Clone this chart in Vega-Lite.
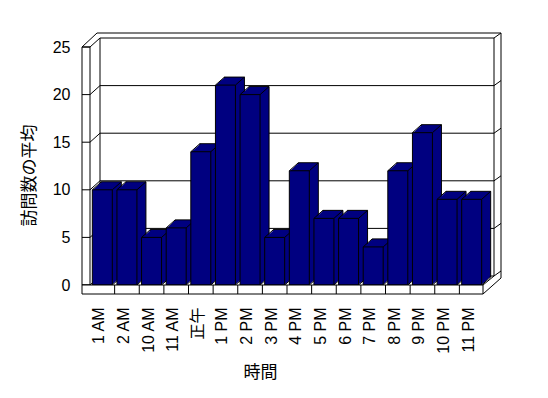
{
  "$schema": "https://vega.github.io/schema/vega-lite/v6.json",
  "width": 394,
  "height": 238,
  "autosize": {"type": "none"},
  "padding": {"left": 90, "top": 47, "right": 64, "bottom": 113},
  "background": "white",
  "config": {"view": {"stroke": null}},
  "datasets": {
    "visits": [
      {"hour": "1 AM", "visits": 10},
      {"hour": "2 AM", "visits": 10},
      {"hour": "10 AM", "visits": 5},
      {"hour": "11 AM", "visits": 6},
      {"hour": "正午", "visits": 14},
      {"hour": "1 PM", "visits": 21},
      {"hour": "2 PM", "visits": 20},
      {"hour": "3 PM", "visits": 5},
      {"hour": "4 PM", "visits": 12},
      {"hour": "5 PM", "visits": 7},
      {"hour": "6 PM", "visits": 7},
      {"hour": "7 PM", "visits": 4},
      {"hour": "8 PM", "visits": 12},
      {"hour": "9 PM", "visits": 16},
      {"hour": "10 PM", "visits": 9},
      {"hour": "11 PM", "visits": 9}
    ],
    "levels": [{"lv": 0}, {"lv": 5}, {"lv": 10}, {"lv": 15}, {"lv": 20}, {"lv": 25}],
    "one": [{"k": 1}]
  },
  "layer": [
    {
      "layer": [
        {
          "data": {"name": "levels"},
          "mark": {"type": "rule", "color": "black", "xOffset": 10, "x2Offset": 10, "yOffset": -9},
          "encoding": {
            "x": {"datum": 0, "type": "quantitative", "scale": {"domain": [0, 16], "nice": false, "zero": false}, "axis": null},
            "x2": {"datum": 16},
            "y": {"field": "lv", "type": "quantitative", "scale": {"domain": [0, 25], "nice": false}, "axis": null}
          }
        },
        {
          "data": {"name": "levels"},
          "mark": {"type": "rule", "color": "black", "x2Offset": 10, "y2Offset": -9},
          "encoding": {
            "x": {"datum": 0, "type": "quantitative"},
            "x2": {"datum": 0},
            "y": {"field": "lv", "type": "quantitative"},
            "y2": {"field": "lv"}
          }
        },
        {
          "data": {"name": "levels"},
          "mark": {"type": "rule", "color": "black", "xOffset": 10, "x2Offset": 17, "yOffset": -9, "y2Offset": -14},
          "encoding": {
            "x": {"datum": 16, "type": "quantitative"},
            "x2": {"datum": 16},
            "y": {"field": "lv", "type": "quantitative"},
            "y2": {"field": "lv"}
          }
        },
        {
          "data": {"name": "one"},
          "mark": {"type": "rule", "color": "black", "xOffset": 10, "yOffset": -9, "y2Offset": -9},
          "encoding": {
            "x": {"datum": 0, "type": "quantitative"},
            "y": {"datum": 25, "type": "quantitative"},
            "y2": {"datum": 0}
          }
        },
        {
          "data": {"name": "one"},
          "mark": {"type": "rule", "color": "black", "xOffset": 10, "yOffset": -9, "y2Offset": -9},
          "encoding": {
            "x": {"datum": 16, "type": "quantitative"},
            "y": {"datum": 25, "type": "quantitative"},
            "y2": {"datum": 0}
          }
        },
        {
          "data": {"name": "one"},
          "mark": {"type": "rule", "color": "black", "xOffset": 7, "x2Offset": 17, "yOffset": -14},
          "encoding": {
            "x": {"datum": 0, "type": "quantitative"},
            "x2": {"datum": 16},
            "y": {"datum": 25, "type": "quantitative"}
          }
        },
        {
          "data": {"name": "one"},
          "mark": {"type": "rule", "color": "black", "xOffset": 17, "yOffset": -14, "y2Offset": -7},
          "encoding": {
            "x": {"datum": 16, "type": "quantitative"},
            "y": {"datum": 25, "type": "quantitative"},
            "y2": {"datum": 0}
          }
        },
        {
          "data": {"name": "one"},
          "mark": {"type": "rule", "color": "black", "xOffset": -8, "x2Offset": 7, "y2Offset": -14},
          "encoding": {
            "x": {"datum": 0, "type": "quantitative"},
            "x2": {"datum": 0},
            "y": {"datum": 25, "type": "quantitative"},
            "y2": {"datum": 25}
          }
        },
        {
          "data": {"name": "one"},
          "mark": {"type": "rect", "fill": "white", "stroke": "black", "strokeWidth": 1, "xOffset": -8},
          "encoding": {
            "x": {"datum": 0, "type": "quantitative"},
            "x2": {"datum": 0},
            "y": {"datum": 25, "type": "quantitative"},
            "y2": {"datum": 0}
          }
        },
        {
          "data": {"name": "levels"},
          "mark": {"type": "rule", "color": "black", "xOffset": -8},
          "encoding": {
            "x": {"datum": 0, "type": "quantitative"},
            "x2": {"datum": 0},
            "y": {"field": "lv", "type": "quantitative"}
          }
        }
      ]
    },
    {
      "data": {"name": "visits"},
      "encoding": {
        "x": {
          "field": "hour", "type": "nominal", "sort": null,
          "scale": {"domain": ["1 AM","2 AM","10 AM","11 AM","正午","1 PM","2 PM","3 PM","4 PM","5 PM","6 PM","7 PM","8 PM","9 PM","10 PM","11 PM"], "paddingInner": 0, "paddingOuter": 0},
          "axis": {
            "orient": "bottom",
            "title": "時間", "domain": false, "ticks": false, "grid": false, "offset": 9,
            "labelAngle": -90, "labelAlign": "right", "labelBaseline": "middle", "labelPadding": 13, "labelOffset": -3,
            "labelFont": "Liberation Sans, Noto Sans CJK JP", "labelFontSize": 16, "labelColor": "black",
            "titleFont": "Noto Sans CJK JP", "titleFontSize": 17, "titleFontWeight": "normal", "titleColor": "black",
            "titleX": 170, "titleY": 78, "titleBaseline": "middle", "titleAlign": "center"
          }
        },
        "y": {
          "field": "visits", "type": "quantitative",
          "scale": {"domain": [0, 25], "nice": false},
          "axis": {
            "orient": "left",
            "title": "訪問数の平均", "values": [0, 5, 10, 15, 20, 25], "domain": false, "ticks": false, "grid": false, "offset": 8,
            "labelPadding": 12, "labelFont": "Liberation Sans", "labelFontSize": 16, "labelColor": "black",
            "titleFont": "Noto Sans CJK JP", "titleFontSize": 17, "titleFontWeight": "normal", "titleColor": "black",
            "titleX": -53, "titleY": 128, "titleBaseline": "middle", "titleAlign": "center", "titleAngle": -90
          }
        }
      },
      "layer": [
        {"mark": {"type": "bar", "fill": "#000080", "stroke": "black", "strokeWidth": 1, "width": {"band": 0.812}, "xOffset": 9, "yOffset": -8, "y2Offset": -8}},
        {"mark": {"type": "bar", "fill": "#000080", "strokeWidth": 0, "width": {"band": 0.812}, "xOffset": 1.125, "yOffset": -1, "y2Offset": -1}},
        {"mark": {"type": "bar", "fill": "#000080", "strokeWidth": 0, "width": {"band": 0.812}, "xOffset": 2.25, "yOffset": -2, "y2Offset": -2}},
        {"mark": {"type": "bar", "fill": "#000080", "strokeWidth": 0, "width": {"band": 0.812}, "xOffset": 3.375, "yOffset": -3, "y2Offset": -3}},
        {"mark": {"type": "bar", "fill": "#000080", "strokeWidth": 0, "width": {"band": 0.812}, "xOffset": 4.5, "yOffset": -4, "y2Offset": -4}},
        {"mark": {"type": "bar", "fill": "#000080", "strokeWidth": 0, "width": {"band": 0.812}, "xOffset": 5.625, "yOffset": -5, "y2Offset": -5}},
        {"mark": {"type": "bar", "fill": "#000080", "strokeWidth": 0, "width": {"band": 0.812}, "xOffset": 6.75, "yOffset": -6, "y2Offset": -6}},
        {"mark": {"type": "bar", "fill": "#000080", "strokeWidth": 0, "width": {"band": 0.812}, "xOffset": 7.875, "yOffset": -7, "y2Offset": -7}},
        {
          "mark": {"type": "rule", "color": "black", "xOffset": 10, "x2Offset": 19, "y2Offset": -8},
          "encoding": {"x2": {"field": "hour"}, "y2": {"field": "visits"}}
        },
        {
          "mark": {"type": "rule", "color": "black", "xOffset": -10, "x2Offset": -1, "y2Offset": -8},
          "encoding": {"x2": {"field": "hour"}, "y2": {"field": "visits"}}
        },
        {
          "mark": {"type": "rule", "color": "black", "xOffset": 10, "x2Offset": 19, "y2Offset": -8},
          "encoding": {"x2": {"field": "hour"}, "y": {"datum": 0, "type": "quantitative"}, "y2": {"datum": 0}}
        },
        {"mark": {"type": "bar", "fill": "#000080", "stroke": "black", "strokeWidth": 1, "width": {"band": 0.812}}}
      ]
    },
    {
      "data": {"name": "one"},
      "layer": [
        {
          "mark": {"type": "rect", "fill": "white", "stroke": "black", "strokeWidth": 1, "xOffset": -8, "x2Offset": -1, "y2Offset": 9},
          "encoding": {
            "x": {"datum": 0, "type": "quantitative", "scale": {"domain": [0, 16], "nice": false, "zero": false}, "axis": null},
            "x2": {"datum": 16},
            "y": {"datum": 0, "type": "quantitative", "scale": {"domain": [0, 25], "nice": false}, "axis": null},
            "y2": {"datum": 0}
          }
        },
        {
          "mark": {"type": "rule", "color": "black", "xOffset": -1, "x2Offset": 17, "yOffset": 9, "y2Offset": -7},
          "encoding": {
            "x": {"datum": 16, "type": "quantitative"},
            "x2": {"datum": 16},
            "y": {"datum": 0, "type": "quantitative"},
            "y2": {"datum": 0}
          }
        },
        {
          "mark": {"type": "rule", "color": "black", "xOffset": -1, "x2Offset": 10, "y2Offset": -9},
          "encoding": {
            "x": {"datum": 16, "type": "quantitative"},
            "x2": {"datum": 16},
            "y": {"datum": 0, "type": "quantitative"},
            "y2": {"datum": 0}
          }
        }
      ]
    },
    {
      "data": {"name": "visits"},
      "transform": [{"filter": "datum.hour !== '1 AM'"}],
      "mark": {"type": "rule", "color": "black", "y2Offset": 9},
      "encoding": {
        "x": {
          "field": "hour", "type": "nominal", "sort": null, "bandPosition": 0,
          "scale": {"domain": ["1 AM","2 AM","10 AM","11 AM","正午","1 PM","2 PM","3 PM","4 PM","5 PM","6 PM","7 PM","8 PM","9 PM","10 PM","11 PM"], "paddingInner": 0, "paddingOuter": 0},
          "axis": null
        },
        "y": {"datum": 0, "type": "quantitative", "scale": {"domain": [0, 25], "nice": false}, "axis": null},
        "y2": {"datum": 0}
      }
    }
  ],
  "resolve": {"scale": {"x": "independent", "y": "independent"}, "axis": {"x": "independent", "y": "independent"}}
}
